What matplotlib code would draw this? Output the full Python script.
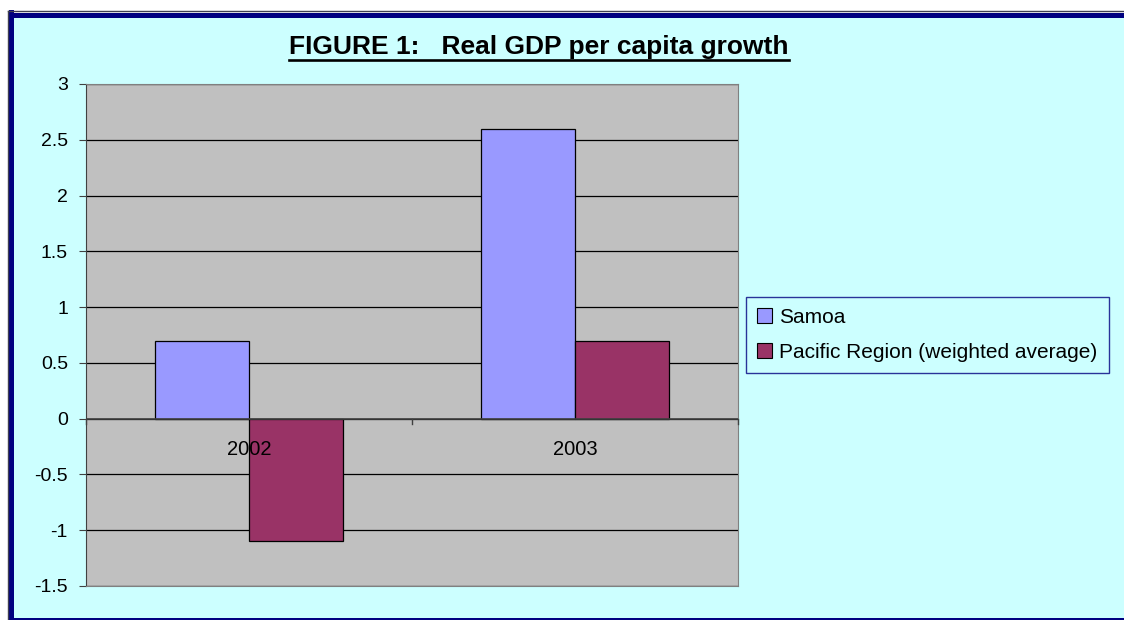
"""Recreate FIGURE 1: Real GDP per capita growth (Samoa vs Pacific Region)."""

import matplotlib.pyplot as plt
import numpy as np
from matplotlib.lines import Line2D
from matplotlib.patches import Patch, Rectangle

plt.rcParams["font.family"] = ["Liberation Sans", "DejaVu Sans"]

years = ["2002", "2003"]
samoa = [0.7, 2.6]
pacific = [-1.1, 0.7]
series_names = ["Samoa", "Pacific Region (weighted average)"]
series_colors = ["#9999FF", "#993366"]
y_ticks = [-1.5, -1, -0.5, 0, 0.5, 1, 1.5, 2, 2.5, 3]
y_tick_labels = ["-1.5", "-1", "-0.5", "0", "0.5", "1", "1.5", "2", "2.5", "3"]

W, H = 1124, 620
fig = plt.figure(figsize=(W / 100, H / 100), dpi=100)
fig.patch.set_facecolor("white")


def fx(px):
    return px / W


def fy(py):
    return 1 - py / H


# chart area background and frame
fig.add_artist(Rectangle((fx(14), fy(620)), fx(1200), 606 / H,
                         transform=fig.transFigure, facecolor="#CCFFFF",
                         edgecolor="none", zorder=0))
for corner, w, h in [
    ((fx(9), fy(619)), fx(5), 609 / H),     # left
    ((fx(9), fy(18)), fx(1200), 5 / H),     # top
    ((fx(9), fy(620)), fx(1200), 2 / H),    # bottom
]:
    fig.add_artist(Rectangle(corner, w, h, transform=fig.transFigure,
                             facecolor="#000080", edgecolor="none", zorder=1))
fig.add_artist(Line2D([fx(7.5), fx(7.5)], [fy(10.5), fy(620)], transform=fig.transFigure,
                      color="#404050", lw=1.0, zorder=1))
fig.add_artist(Line2D([fx(7.5), fx(1124)], [fy(10.5), fy(10.5)], transform=fig.transFigure,
                      color="#404050", lw=1.0, zorder=1))

ax = fig.add_axes([fx(86), fy(586), fx(738 - 86), (586 - 84) / H])
ax.set_facecolor("#C0C0C0")
ax.set_axisbelow(True)
ax.grid(axis="y", color="black", lw=0.9)

x = np.arange(len(years))
width = 0.288
ax.bar(x - width / 2, samoa, width, color=series_colors[0], edgecolor="black",
       linewidth=0.9, zorder=2)
ax.bar(x + width / 2, pacific, width, color=series_colors[1], edgecolor="black",
       linewidth=0.9, zorder=2)

ax.set_xlim(-0.5, 1.5)
ax.set_ylim(-1.5, 3)
ax.set_yticks(y_ticks)
ax.set_yticklabels(y_tick_labels, fontsize=14)
ax.tick_params(axis="y", length=5, width=0.8, color="#404040", pad=8)
ax.set_xticks([])

# category axis drawn at zero with boundary ticks
ax.axhline(0, color="#404040", lw=1.2, zorder=3)
for b in [-0.5, 0.5, 1.5]:
    ax.plot([b, b], [0, -0.05], color="#404040", lw=1.0, zorder=3, clip_on=False)
for xi, year in zip(x, years):
    ax.text(xi, -0.28, year, ha="center", va="center", fontsize=14.5, zorder=4)

for side in ["top", "right", "bottom"]:
    ax.spines[side].set_color("#808080")
ax.spines["left"].set_color("#404040")

# title with underline
title = fig.text(fx(539), fy(47), "FIGURE 1:   Real GDP per capita growth",
                 ha="center", va="center", fontsize=19, fontweight="bold")
fig.canvas.draw()
bb = title.get_window_extent()
fig.add_artist(Line2D([bb.x0 / W, bb.x1 / W], [fy(60), fy(60)],
                      transform=fig.transFigure, color="black", lw=1.9))

handles = [Patch(facecolor=c, edgecolor="black", linewidth=0.8) for c in series_colors]
leg = fig.legend(handles, series_names, loc="center left",
                 bbox_to_anchor=(fx(746), fy(335)), fontsize=15,
                 frameon=True, fancybox=False, handlelength=0.72, handleheight=0.72,
                 handletextpad=0.33, labelspacing=0.75, borderpad=0.55,
                 borderaxespad=0)
leg.get_frame().set_facecolor("#CCFFFF")
leg.get_frame().set_edgecolor("#000080")
leg.get_frame().set_linewidth(1.0)

fig.savefig("out.png", dpi=100, facecolor=fig.get_facecolor())
